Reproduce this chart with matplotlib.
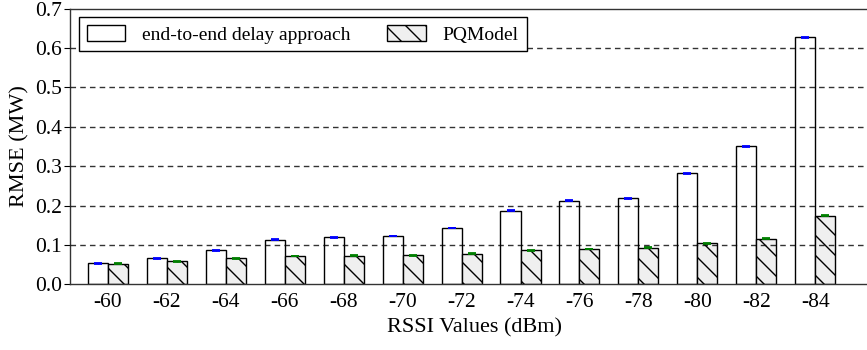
import matplotlib
matplotlib.use("Agg")
import matplotlib.pyplot as plt
import matplotlib.hatch as mhatch
import numpy as np

plt.rcParams['font.family'] = ['Liberation Serif', 'DejaVu Serif']
plt.rcParams['hatch.linewidth'] = 1.0

_BaseBackslash = getattr(mhatch, 'SouthEastHatch', None)
if _BaseBackslash is not None:
    class _SparseBackslash(_BaseBackslash):
        def __init__(self, hatch, density):
            super().__init__(hatch, density)
            self.num_lines = int(hatch.count('\\') * 10)
            self.num_vertices = (self.num_lines + 1) * 2 if self.num_lines else 0

    mhatch._hatch_types = [_SparseBackslash if t is _BaseBackslash else t
                           for t in mhatch._hatch_types]

rssi_labels = ['-60', '-62', '-64', '-66', '-68', '-70', '-72', '-74', '-76', '-78', '-80', '-82', '-84']
e2e_values = [0.054, 0.066, 0.087, 0.113, 0.120, 0.123, 0.143, 0.187, 0.212, 0.219, 0.282, 0.351, 0.627]
pq_values = [0.053, 0.059, 0.066, 0.072, 0.073, 0.074, 0.078, 0.087, 0.090, 0.093, 0.104, 0.116, 0.174]
e2e_err = [0.001] * len(rssi_labels)
pq_err = [0.001] * len(rssi_labels)

fig = plt.figure(figsize=(8.67, 3.5), dpi=100)
ax = fig.add_axes([70/867, 1 - 284.4/350, (880-70)/867, (284.4-8.6)/350])

x = np.arange(len(rssi_labels))
w = 0.34
ax.bar(x - w/2, e2e_values, w, color='white', edgecolor='black', linewidth=1.0,
       label='end-to-end delay approach', zorder=2)
ax.bar(x + w/2, pq_values, w, color='#efefef', edgecolor='black', linewidth=1.0,
       hatch='\\', label='PQModel', zorder=2)
ax.errorbar(x - w/2, e2e_values, yerr=e2e_err, fmt='none', ecolor='blue',
            capsize=3, elinewidth=1, capthick=1.3, zorder=3)
ax.errorbar(x + w/2, pq_values, yerr=pq_err, fmt='none', ecolor='green',
            capsize=3, elinewidth=1, capthick=1.3, zorder=3)

ax.set_xlim(-0.645, 13.1)
ax.set_ylim(0, 0.7)
ax.set_yticks(np.arange(0, 0.71, 0.1))
ax.set_yticklabels(['%.1f' % v for v in np.arange(0, 0.71, 0.1)])
ax.set_xticks(x)
ax.set_xticklabels(rssi_labels)
ax.tick_params(axis='x', length=0, labelsize=15.5, pad=6)
ax.tick_params(axis='y', length=4, direction='out', labelsize=15.5, pad=2)

for yv in np.arange(0.1, 0.65, 0.1):
    ax.axhline(yv, color='black', linestyle=(0, (4, 3)), linewidth=1.0, alpha=0.8, zorder=4)

for s in ax.spines.values():
    s.set_color('#333333')
    s.set_linewidth(1.0)

ax.set_xlabel('RSSI Values (dBm)', fontsize=16, labelpad=5)
ax.set_ylabel('RMSE (MW)', fontsize=16, labelpad=4)

leg = ax.legend(loc='upper left', ncol=2, fontsize=14, frameon=True, fancybox=False,
                edgecolor='black', framealpha=1, handlelength=2.0, handleheight=0.85,
                handletextpad=0.85, columnspacing=1.9, borderaxespad=0.45, borderpad=0.4)
leg.get_frame().set_linewidth(1.0)
leg.set_zorder(5)

fig.savefig('out.png', dpi=100)
